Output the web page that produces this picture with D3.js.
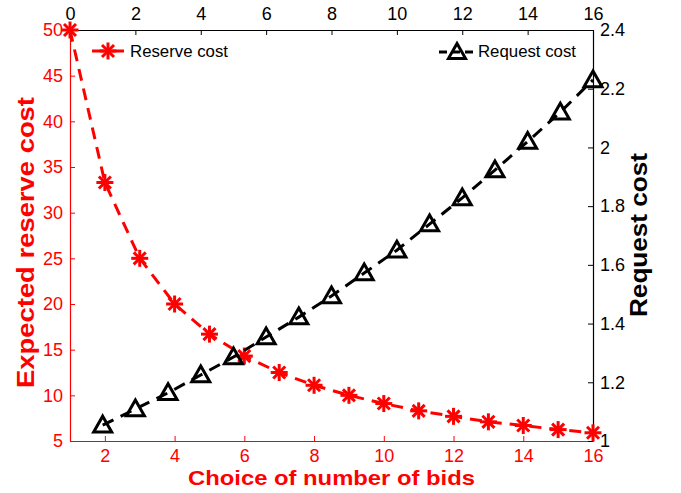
<!DOCTYPE html>
<html><head><meta charset="utf-8">
<script src="https://cdn.jsdelivr.net/npm/d3@7/dist/d3.min.js"></script>
<style>body{margin:0;background:#fff}svg{display:block}text{font-family:"Liberation Sans",Arial,sans-serif}</style>
</head><body><svg id="c" width="681" height="493"></svg>
<script>
const bids = d3.range(1, 17);
const reserveCost = [50, 33.3, 25, 20, 16.7, 14.3, 12.5, 11.1, 10, 9.1, 8.3, 7.7, 7.1, 6.7, 6.25, 5.9];
const requestX = d3.range(1, 17);
const requestCost = [1.054, 1.109, 1.164, 1.225, 1.286, 1.354, 1.422, 1.494, 1.572, 1.65, 1.739, 1.828, 1.923, 2.02, 2.12, 2.23];
const bottomTicks = [2, 4, 6, 8, 10, 12, 14, 16];
const leftTicks = [5, 10, 15, 20, 25, 30, 35, 40, 45, 50];
const topTicks = [0, 2, 4, 6, 8, 10, 12, 14, 16];
const rightTicks = [1, 1.2, 1.4, 1.6, 1.8, 2, 2.2, 2.4];

const L = 70, R = 593, T = 30, B = 441;
const svg = d3.select("#c");
const xB = d3.scaleLinear().domain([1, 16]).range([L, R]);
const yL = d3.scaleLinear().domain([5, 50]).range([B, T]);
const xT = d3.scaleLinear().domain([0, 16]).range([L, R]);
const yR = d3.scaleLinear().domain([1, 2.4]).range([B, T]);
const red = "#ff0000";

function styleAxis(g, color) {
  g.select(".domain").attr("stroke", color).attr("stroke-width", 1.2);
  g.selectAll(".tick line").attr("stroke", color);
  g.selectAll(".tick text").attr("fill", color).attr("font-size", 18);
}
const gB = svg.append("g").attr("transform", `translate(0,${B})`)
  .call(d3.axisBottom(xB).tickValues(bottomTicks).tickSizeInner(-5).tickSizeOuter(0).tickPadding(8));
styleAxis(gB, red);
const gL = svg.append("g").attr("transform", `translate(${L},0)`)
  .call(d3.axisLeft(yL).tickValues(leftTicks).tickSizeInner(-5).tickSizeOuter(0).tickPadding(7));
styleAxis(gL, red);
const gT = svg.append("g").attr("transform", `translate(0,${T})`)
  .call(d3.axisTop(xT).tickValues(topTicks).tickSizeInner(-5).tickSizeOuter(0).tickPadding(10));
styleAxis(gT, "#000");
const gR = svg.append("g").attr("transform", `translate(${R},0)`)
  .call(d3.axisRight(yR).tickValues(rightTicks).tickFormat(d3.format("~g")).tickSizeInner(-5).tickSizeOuter(0).tickPadding(7));
styleAxis(gR, "#000");

function asterisk(g, x, y, s, color) {
  const a = g.append("g").attr("transform", `translate(${x},${y})`)
    .attr("stroke", color).attr("stroke-width", 3).attr("stroke-linecap", "butt");
  [0, 45, 90, 135].forEach(ang => {
    const r = ang * Math.PI / 180;
    a.append("line").attr("x1", -s * Math.cos(r)).attr("y1", -s * Math.sin(r))
      .attr("x2", s * Math.cos(r)).attr("y2", s * Math.sin(r));
  });
}
function triangle(g, x, y, s) {
  g.append("path").attr("d", `M${x},${y - s}L${x + s},${y + s * 0.75}L${x - s},${y + s * 0.75}Z`)
    .attr("fill", "none").attr("stroke", "#000").attr("stroke-width", 3).attr("stroke-linejoin", "miter");
}

const lineRes = d3.line().x((d, i) => xB(bids[i])).y(d => yL(d));
svg.append("path").datum(reserveCost).attr("d", lineRes).attr("fill", "none")
  .attr("stroke", red).attr("stroke-width", 3).attr("stroke-dasharray", "12,8");
const mk = svg.append("g");
reserveCost.forEach((v, i) => asterisk(mk, xB(bids[i]), yL(v), 8.5, red));

const lineReq = d3.line().x((d, i) => xT(requestX[i])).y(d => yR(d));
svg.append("path").datum(requestCost).attr("d", lineReq).attr("fill", "none")
  .attr("stroke", "#000").attr("stroke-width", 3).attr("stroke-dasharray", "12,8");
const mk2 = svg.append("g");
requestCost.forEach((v, i) => triangle(mk2, xT(requestX[i]), yR(v), 9));

// legends
svg.append("line").attr("x1", 90).attr("x2", 126).attr("y1", 51).attr("y2", 51)
  .attr("stroke", red).attr("stroke-width", 3).attr("stroke-dasharray", "12,8").attr("stroke-dashoffset", -2);
asterisk(svg, 108, 51, 8.5, red);
svg.append("text").attr("x", 130).attr("y", 57).attr("font-size", 16).attr("fill", "#000")
  .attr("textLength", 98).attr("lengthAdjust", "spacingAndGlyphs").text("Reserve cost");
svg.append("line").attr("x1", 439).attr("x2", 475).attr("y1", 52).attr("y2", 52)
  .attr("stroke", "#000").attr("stroke-width", 3).attr("stroke-dasharray", "8,5");
triangle(svg, 457, 52, 8.5);
svg.append("text").attr("x", 478).attr("y", 57).attr("font-size", 16).attr("fill", "#000")
  .attr("textLength", 98).attr("lengthAdjust", "spacingAndGlyphs").text("Request cost");

// axis titles
svg.append("text").attr("x", 188).attr("y", 485)
  .attr("font-size", 21).attr("font-weight", "bold").attr("fill", red)
  .attr("textLength", 287).attr("lengthAdjust", "spacingAndGlyphs").text("Choice of number of bids");
svg.append("text").attr("transform", "translate(34,388) rotate(-90)")
  .attr("font-size", 23).attr("font-weight", "bold").attr("fill", red)
  .attr("textLength", 291).attr("lengthAdjust", "spacingAndGlyphs").text("Expected reserve cost");
svg.append("text").attr("transform", "translate(647,317) rotate(-90)")
  .attr("font-size", 23).attr("font-weight", "bold").attr("fill", "#000")
  .attr("textLength", 164).attr("lengthAdjust", "spacingAndGlyphs").text("Request cost");
</script></body></html>
